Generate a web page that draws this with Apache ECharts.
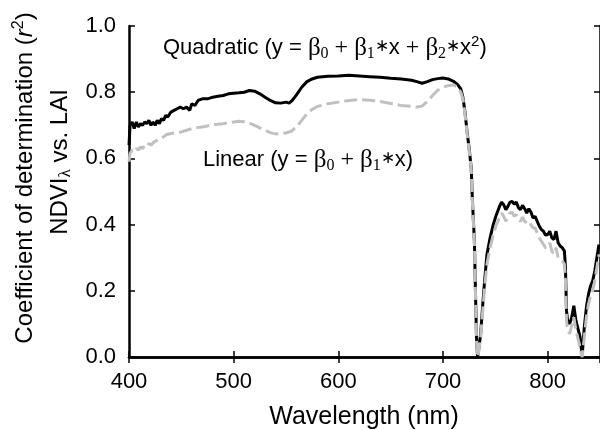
<!DOCTYPE html>
<html>
<head>
<meta charset="utf-8">
<script src="https://cdn.jsdelivr.net/npm/echarts@6/dist/echarts.min.js"></script>
<style>
html,body{margin:0;padding:0;background:#fff;}
#chart{width:600px;height:430px;}
</style>
</head>
<body>
<div id="chart"></div>
<script>
// ---- data ----
var wavelengthQuad = [400,401,403,405,407,409,411,413,415,417,419,421,423,425,427,429,431,433,435,437,440,443,446,449,452,455,458,460,463,466,470,475,480,485,490,495,500,505,510,515,520,525,530,535,540,545,550,553,556,560,565,570,575,580,590,600,610,620,630,640,650,660,670,675,680,685,690,695,700,705,710,714,717,719,721,723,725,727,728,730,731,732,733,734,736,738,740,742,745,748,751,754,756,758,760,762,764,766,768,770,772,774,776,778,780,782,784,786,788,790,792,794,796,798,800,802,804,806,808,810,812,814,816,817,818,819,821,823,825,827,829,831,832,833,835,837,839,841,843,845,847,849];
var r2Quadratic = [0.64,0.70,0.71,0.69,0.71,0.695,0.705,0.70,0.71,0.705,0.715,0.70,0.71,0.70,0.715,0.705,0.72,0.715,0.73,0.725,0.74,0.745,0.75,0.755,0.75,0.755,0.745,0.765,0.76,0.775,0.78,0.78,0.785,0.788,0.79,0.795,0.797,0.798,0.80,0.805,0.803,0.795,0.785,0.775,0.768,0.767,0.77,0.767,0.775,0.792,0.815,0.832,0.84,0.845,0.848,0.849,0.851,0.849,0.847,0.845,0.842,0.84,0.836,0.832,0.827,0.832,0.838,0.841,0.843,0.84,0.833,0.823,0.81,0.785,0.74,0.68,0.63,0.57,0.48,0.35,0.2,0.06,0.0,0.02,0.07,0.16,0.24,0.31,0.36,0.40,0.43,0.455,0.468,0.46,0.445,0.455,0.468,0.47,0.462,0.468,0.452,0.445,0.458,0.448,0.435,0.448,0.438,0.42,0.425,0.41,0.395,0.385,0.38,0.368,0.37,0.38,0.36,0.355,0.38,0.345,0.335,0.33,0.32,0.27,0.14,0.11,0.10,0.12,0.155,0.11,0.085,0.06,0.03,0.005,0.09,0.15,0.19,0.215,0.23,0.26,0.30,0.34];

var wavelengthLin = [400,401,403,405,407,409,411,413,415,417,419,421,424,427,430,433,436,440,445,450,455,460,465,470,475,480,485,490,495,500,505,510,515,520,525,530,535,540,545,550,555,560,565,570,575,580,590,600,610,620,630,640,650,660,670,675,680,685,690,695,700,705,710,714,717,719,721,723,725,727,728,730,731,732,733,734,736,738,740,742,745,748,751,754,756,758,760,762,764,766,768,770,772,774,776,778,780,782,784,786,788,790,792,794,796,798,800,802,804,806,808,810,812,814,816,817,818,819,821,823,825,827,829,831,832,833,835,837,839,841,843,845,847,849];
var r2Linear = [0.59,0.615,0.625,0.62,0.63,0.625,0.635,0.63,0.638,0.635,0.645,0.64,0.65,0.655,0.66,0.665,0.672,0.675,0.678,0.68,0.685,0.69,0.693,0.695,0.698,0.702,0.703,0.705,0.708,0.71,0.712,0.711,0.707,0.70,0.692,0.685,0.678,0.674,0.675,0.677,0.682,0.695,0.715,0.735,0.748,0.757,0.765,0.77,0.775,0.778,0.776,0.772,0.766,0.76,0.757,0.755,0.758,0.772,0.79,0.806,0.815,0.82,0.822,0.815,0.80,0.78,0.735,0.675,0.625,0.565,0.475,0.345,0.195,0.055,0.0,0.015,0.06,0.14,0.22,0.28,0.33,0.37,0.40,0.42,0.435,0.425,0.41,0.42,0.435,0.438,0.425,0.43,0.415,0.41,0.422,0.41,0.405,0.41,0.40,0.39,0.39,0.375,0.36,0.35,0.34,0.33,0.33,0.345,0.32,0.31,0.33,0.30,0.295,0.29,0.28,0.23,0.11,0.085,0.07,0.095,0.12,0.08,0.055,0.03,0.01,0.0,0.06,0.12,0.16,0.185,0.20,0.23,0.27,0.31];

var xTicks = [400, 500, 600, 700, 800];
var yTicks = ['0.0', '0.2', '0.4', '0.6', '0.8', '1.0'];

function pairs(xs, ys) { return xs.map(function (x, i) { return [x, ys[i]]; }); }

var SANS = 'Liberation Sans, Arial, sans-serif';
var SERIF = 'Liberation Serif, Times New Roman, serif';

var chart = echarts.init(document.getElementById('chart'), null, {renderer: 'canvas'});

var axisCommon = {
  axisLine: {show: true, lineStyle: {color: '#000', width: 2.5}},
  axisTick: {show: true, inside: true, length: 6, lineStyle: {color: '#000', width: 1.5}},
  splitLine: {show: false}
};

var labRich = {
  t: {fontFamily: SANS, fontSize: 22, color: '#000', lineHeight: 26},
  g: {fontFamily: SERIF, fontSize: 25, color: '#000', lineHeight: 26},
  p: {fontFamily: SERIF, fontSize: 24, color: '#000', lineHeight: 26},
  st: {fontFamily: SERIF, fontSize: 17, color: '#000', lineHeight: 17, padding: [0, 0, 3, 0]},
  sub: {fontFamily: SERIF, fontSize: 16, color: '#000', lineHeight: 16, padding: [12, 0, 0, 0]},
  sup: {fontFamily: SANS, fontSize: 15, color: '#000', lineHeight: 15, padding: [0, 0, 12, 0]}
};

var yRich = {
  t: {fontFamily: SANS, fontSize: 24, color: '#000', lineHeight: 28},
  i: {fontFamily: SANS, fontSize: 24, fontStyle: 'italic', color: '#000', lineHeight: 28},
  sup: {fontFamily: SANS, fontSize: 16, color: '#000', lineHeight: 16, padding: [0, 0, 12, 0]},
  sub: {fontFamily: SERIF, fontSize: 17, color: '#000', lineHeight: 17, padding: [12, 0, 0, 0]}
};

var option = {
  animation: false,
  backgroundColor: '#fff',
  grid: {left: 129, top: 26, width: 471, height: 331, containLabel: false},
  xAxis: [
    Object.assign({
      type: 'value', min: 400, max: 850, interval: 100, position: 'bottom',
      axisLabel: {show: true, margin: 14, fontFamily: SANS, fontSize: 22, color: '#000', showMaxLabel: false,
        formatter: function (v) { return xTicks.indexOf(v) >= 0 ? String(v) : ''; }}
    }, axisCommon),
    Object.assign({
      type: 'value', min: 400, max: 850, interval: 100, position: 'top',
      axisLabel: {show: false}
    }, axisCommon)
  ],
  yAxis: [
    Object.assign({
      type: 'value', min: 0, max: 1, interval: 0.2, position: 'left',
      axisLabel: {show: true, margin: 13, fontFamily: SANS, fontSize: 22, color: '#000',
        formatter: function (v) { return yTicks[Math.round(v / 0.2)]; }}
    }, axisCommon),
    Object.assign({
      type: 'value', min: 0, max: 1, interval: 0.2, position: 'right',
      axisLabel: {show: false}
    }, axisCommon)
  ],
  series: [
    {
      name: 'Quadratic', type: 'line', xAxisIndex: 0, yAxisIndex: 0,
      data: pairs(wavelengthQuad, r2Quadratic), showSymbol: false, symbol: 'none',
      lineStyle: {color: '#000', width: 3}, z: 2
    },
    {
      name: 'Linear', type: 'line', xAxisIndex: 0, yAxisIndex: 0,
      data: pairs(wavelengthLin, r2Linear), showSymbol: false, symbol: 'none',
      lineStyle: {color: '#c0c0c0', width: 3, type: [13, 5]}, z: 3
    }
  ],
  graphic: [
    {
      type: 'text', left: 163, top: 34, z: 10,
      style: {
        text: '{t|Quadratic (y = }{g|β}{sub|0}{p| + }{g|β}{sub|1}{st|∗}{t|x}{p| + }{g|β}{sub|2}{st|∗}{t|x}{sup|2}{t|)}',
        rich: labRich
      }
    },
    {
      type: 'text', left: 203, top: 146, z: 10,
      style: {
        text: '{t|Linear (y = }{g|β}{sub|0}{p| + }{g|β}{sub|1}{st|∗}{t|x)}',
        rich: labRich
      }
    },
    {
      type: 'text', x: 25, y: 178, rotation: Math.PI / 2, z: 10,
      style: {
        text: '{t|Coefficient of determination (}{i|r}{sup|2}{t|)}',
        rich: yRich, align: 'center', verticalAlign: 'middle'
      }
    },
    {
      type: 'text', x: 60, y: 162, rotation: Math.PI / 2, z: 10,
      style: {
        text: '{t|NDVI}{sub|λ}{t| vs. LAI}',
        rich: yRich, align: 'center', verticalAlign: 'middle'
      }
    },
    {
      type: 'text', x: 364, y: 417, z: 10,
      style: {
        text: 'Wavelength (nm)', fontFamily: SANS, fontSize: 25, fill: '#000',
        align: 'center', verticalAlign: 'middle'
      }
    }
  ]
};
chart.setOption(option);
</script>
</body>
</html>
